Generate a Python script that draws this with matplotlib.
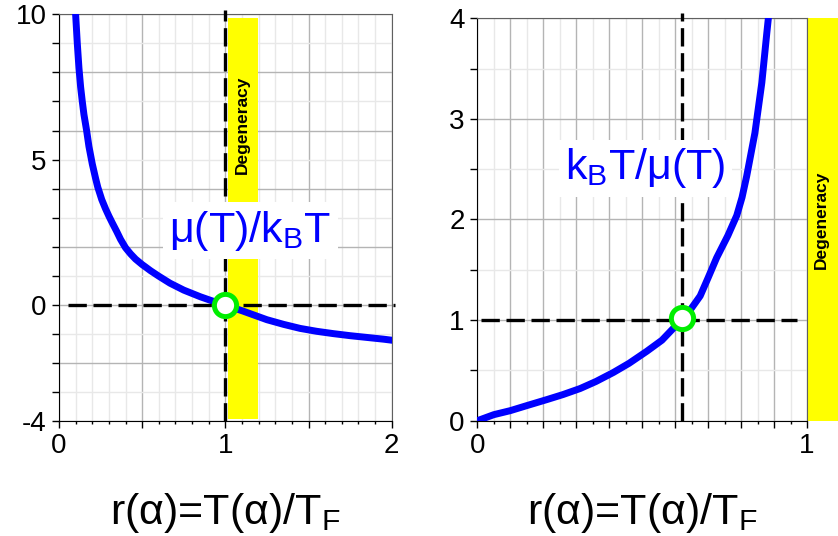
import numpy as np
import matplotlib
matplotlib.use("Agg")
import matplotlib.pyplot as plt
from matplotlib.patches import Rectangle

plt.rcParams['font.family'] = ['Liberation Sans', 'DejaVu Sans']
plt.rcParams['mathtext.fontset'] = 'custom'
plt.rcParams['mathtext.rm'] = 'Liberation Sans'
plt.rcParams['mathtext.it'] = 'Liberation Sans'

# left panel: mu(T)/kT against r = T/T_F
left_r = [0.100, 0.110, 0.120, 0.130, 0.140, 0.150, 0.166, 0.180, 0.200, 0.220,
          0.233, 0.257, 0.280, 0.300, 0.320, 0.347, 0.370, 0.400, 0.430, 0.460,
          0.500, 0.517, 0.550, 0.600, 0.667, 0.750, 0.850, 0.920, 0.990, 1.100,
          1.250, 1.350, 1.450, 1.550, 1.650, 1.750, 1.850, 1.950, 2.020]
left_mu = [10.0, 9.0, 8.15, 7.5, 7.0, 6.55, 6.0, 5.45, 4.85, 4.35,
           4.05, 3.62, 3.3, 3.05, 2.82, 2.52, 2.25, 1.96, 1.75, 1.57,
           1.38, 1.31, 1.17, 0.98, 0.74, 0.50, 0.27, 0.13, 0.0, -0.21,
           -0.52, -0.68, -0.82, -0.92, -1.00, -1.07, -1.13, -1.19, -1.24]

# right panel: kT/mu(T) against r
right_r = [0.0, 0.050, 0.100, 0.150, 0.211, 0.260, 0.312, 0.360, 0.413, 0.460,
           0.514, 0.560, 0.595, 0.620, 0.650, 0.676, 0.700, 0.726, 0.760, 0.787,
           0.803, 0.817, 0.842, 0.863, 0.878, 0.886]
right_kt = [0.0, 0.06, 0.10, 0.15, 0.21, 0.26, 0.32, 0.39, 0.48, 0.57,
            0.69, 0.80, 0.92, 1.00, 1.12, 1.24, 1.42, 1.62, 1.84, 2.04,
            2.22, 2.43, 2.86, 3.36, 3.85, 4.10]

left_cross = (1.0, 0.0)
right_cross = (0.62, 1.02)
left_band = (1.014, 1.194)

left_yticks = list(range(-4, 11))
left_ylabels = {10: '10', 5: '5', 0: '0', -4: '-4'}
right_yticks = list(np.arange(0, 4.01, 0.5))
right_ylabels = {0: '0', 1: '1', 2: '2', 3: '3', 4: '4'}

xlabel = r'r(α)=T(α)/T$_{\rm F}$'
BLUE = '#0000ff'
GREEN = '#00ee00'
YELLOW = '#ffff00'
DARK = '#b4b4b4'
LIGHT = '#e8e8e8'
DASH = (5.5, 2)

fig = plt.figure(figsize=(8.38, 5.36), dpi=100)
ax1 = fig.add_axes([0.0704, 0.2151, 0.397, 0.758])
ax2 = fig.add_axes([0.5696, 0.2151, 0.3934, 0.7508])


def style_axes(ax):
    for s in ['left', 'bottom']:
        ax.spines[s].set_color('black')
    for s in ['top', 'right']:
        ax.spines[s].set_color('#606060')
    ax.tick_params(which='major', direction='out', length=5, width=1,
                   labelsize=20, pad=4)
    ax.tick_params(which='minor', direction='out', length=2.5, width=1)


# ---- left ----
ax1.set_xlim(0, 2)
ax1.set_ylim(-4, 10)
for v in np.arange(0, 2.01, 0.1):
    c = DARK if abs(v * 2 - round(v * 2)) < 1e-6 else LIGHT
    ax1.axvline(v, color=c, lw=1, zorder=0)
for v in left_yticks:
    ax1.axhline(v, color=DARK if v % 2 == 0 else LIGHT, lw=1, zorder=0)
ax1.axvspan(left_band[0], left_band[1], ymin=0.005, ymax=0.99, color=YELLOW,
            lw=0, zorder=1)
ax1.text((left_band[0] + left_band[1]) / 2, 6.2, 'Degeneracy', rotation=90,
         ha='center', va='center', fontsize=12.5, fontweight='bold', zorder=2)
ax1.plot(left_r, left_mu, color=BLUE, lw=5, zorder=3, clip_on=True,
         solid_joinstyle='round')
ax1.plot([0.056, 2.02], [0, 0], color='black', lw=2.4, dashes=DASH,
         zorder=4, clip_on=False)
ax1.plot([1.0, 1.0], [-4, 10.15], color='black', lw=2.4, dashes=DASH,
         zorder=4, clip_on=False)
ax1.text(1.15, 2.54, r'μ(T)/k$_{\rm B}$T', color=BLUE, fontsize=31,
         ha='center', va='center', zorder=5,
         bbox=dict(facecolor='white', edgecolor='none',
                   boxstyle='square,pad=0.15'))
ax1.plot(*left_cross, marker='o', ms=16, mfc='white', mec=GREEN, mew=3.6,
         zorder=6, clip_on=False)
ax1.set_xticks([0, 0.5, 1, 1.5, 2])
ax1.set_xticklabels(['0', '', '1', '', '2'])
ax1.set_xticks(np.arange(0, 2.01, 0.1), minor=True)
ax1.set_yticks(left_yticks)
ax1.set_yticklabels([left_ylabels.get(v, '') for v in left_yticks])
style_axes(ax1)

# ---- right ----
ax2.set_xlim(0, 1)
ax2.set_ylim(0, 4)
for i in range(21):
    ax2.axvline(i * 0.05, color=DARK if i % 2 == 0 else LIGHT, lw=1, zorder=0)
for v in right_yticks:
    ax2.axhline(v, color=DARK if v == int(v) else LIGHT, lw=1, zorder=0)
ax2.add_patch(Rectangle((1.0, 0.0), 0.095, 1.0, transform=ax2.transAxes,
                        facecolor=YELLOW, edgecolor='none', clip_on=False,
                        zorder=1))
ax2.text(1.045, 0.5, 'Degeneracy', rotation=90, transform=ax2.transAxes,
         ha='center', va='center', fontsize=12.5, fontweight='bold', zorder=2)
ax2.plot(right_r, right_kt, color=BLUE, lw=5, zorder=3, clip_on=True,
         solid_joinstyle='round')
ax2.plot([0.01, 0.97], [1, 1], color='black', lw=2.4, dashes=DASH,
         zorder=4, clip_on=False)
ax2.plot([0.62, 0.62], [0, 4.05], color='black', lw=2.4, dashes=DASH,
         zorder=4, clip_on=False)
ax2.text(0.51, 2.51, r'k$_{\rm B}$T/μ(T)', color=BLUE, fontsize=31,
         ha='center', va='center', zorder=5,
         bbox=dict(facecolor='white', edgecolor='none',
                   boxstyle='square,pad=0.15'))
ax2.plot(*right_cross, marker='o', ms=16, mfc='white', mec=GREEN, mew=3.6,
         zorder=6, clip_on=False)
ax2.set_xticks(np.arange(0, 1.01, 0.1))
ax2.set_xticklabels(['0'] + [''] * 9 + ['1'])
ax2.set_xticks(np.arange(0, 1.01, 0.05), minor=True)
ax2.set_yticks(right_yticks)
ax2.set_yticklabels([right_ylabels.get(v, '') for v in right_yticks])
style_axes(ax2)

for ax in (ax1, ax2):
    pos = ax.get_position()
    fig.text(pos.x0 + pos.width / 2, 0.022, xlabel, fontsize=31,
             ha='center', va='baseline')

fig.savefig('out.png', dpi=100)
